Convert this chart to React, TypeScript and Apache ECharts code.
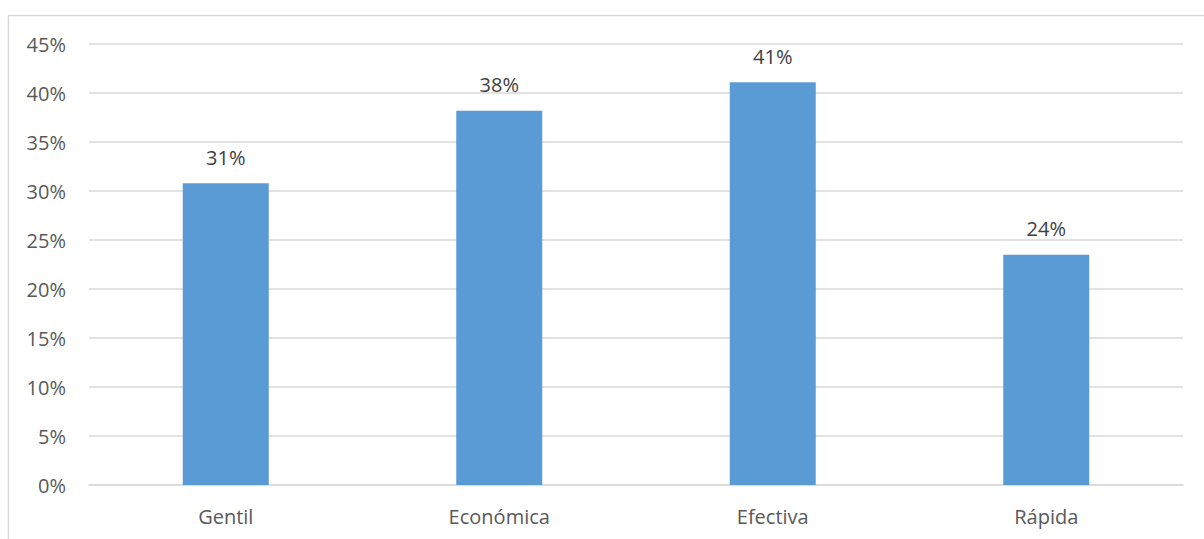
import React, { useEffect, useRef } from "react";
import * as echarts from "echarts";

const categories = ["Gentil", "Económica", "Efectiva", "Rápida"];
const values = [30.8, 38.2, 41.1, 23.5];
const yTicks = { min: 0, max: 45, interval: 5 };

export default function App() {
  const ref = useRef<HTMLDivElement>(null);
  useEffect(() => {
    if (!ref.current) return;
    const chart = echarts.init(ref.current, undefined, { renderer: "svg" });
    const font = "'Open Sans', 'Noto Sans', sans-serif";
    chart.setOption({
      animation: false,
      backgroundColor: "#ffffff",
      textStyle: { fontFamily: font },
      graphic: [
        {
          type: "rect",
          shape: { x: 8.5, y: 15.5, width: 1400, height: 700 },
          style: { fill: "none", stroke: "#d9d9d9", lineWidth: 1.5 },
          silent: true,
        },
      ],
      grid: { left: 89, right: 21, top: 44, bottom: 54, containLabel: false },
      xAxis: {
        type: "category",
        data: categories,
        axisLine: { show: true, lineStyle: { color: "#d9d9d9", width: 1.5 } },
        axisTick: { show: false },
        axisLabel: { color: "#595959", fontSize: 20, fontFamily: font, margin: 21 },
      },
      yAxis: {
        type: "value",
        min: yTicks.min,
        max: yTicks.max,
        interval: yTicks.interval,
        axisLine: { show: false },
        axisTick: { show: false },
        axisLabel: {
          color: "#595959",
          fontSize: 20,
          fontFamily: font,
          margin: 23,
          formatter: (v: number) => v + "%",
        },
        splitLine: { lineStyle: { color: "#d9d9d9", width: 1.5 } },
      },
      series: [
        {
          type: "bar",
          data: values,
          barWidth: 86,
          itemStyle: { color: "#5b9bd5" },
          label: {
            show: true,
            position: "top",
            distance: 16,
            color: "#404040",
            fontSize: 20,
            fontFamily: font,
            formatter: (p: any) => Math.round(p.value) + "%",
          },
        },
      ],
    });
    return () => chart.dispose();
  }, []);
  return (
    <div
      ref={ref}
      style={{ position: "absolute", left: 0, top: 0, width: 1204, height: 539 }}
    />
  );
}
